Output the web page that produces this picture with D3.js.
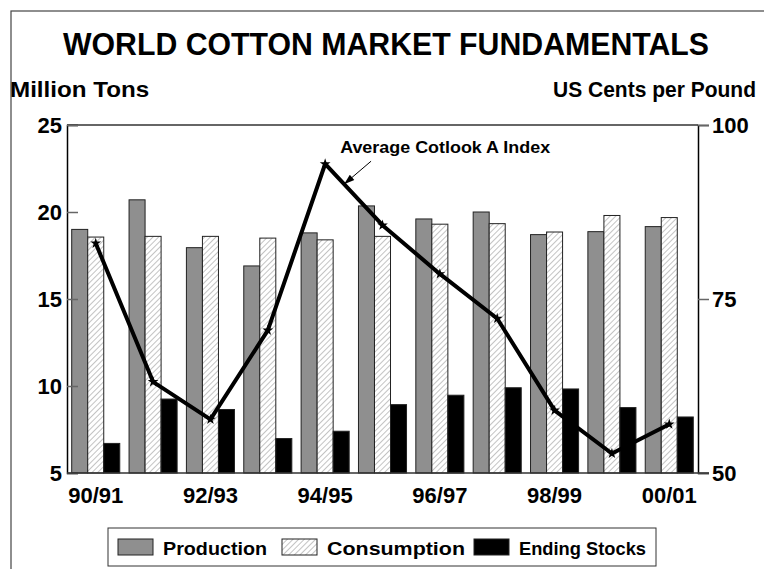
<!DOCTYPE html>
<html lang="en">
<head>
<meta charset="UTF-8">
<title>World Cotton Market Fundamentals</title>
<script src="https://d3js.org/d3.v7.min.js"></script>
<style>
  body { margin: 0; background: #fff; }
  svg text { font-family: "Liberation Sans", Arial, sans-serif; font-weight: bold; fill: #000; }
</style>
</head>
<body>
<svg width="764" height="569"></svg>
<script>
// data
const seasons = ["90/91","91/92","92/93","93/94","94/95","95/96","96/97","97/98","98/99","99/00","00/01"];
const production = [19.0, 20.7, 17.95, 16.9, 18.8, 20.35, 19.6, 20.0, 18.7, 18.87, 19.16];
const consumption = [18.56, 18.6, 18.6, 18.5, 18.4, 18.6, 19.3, 19.33, 18.85, 19.8, 19.68];
const endingStocks = [6.7, 9.25, 8.65, 6.98, 7.4, 8.93, 9.47, 9.9, 9.83, 8.76, 8.22];
const cotlookA = [83.0, 63.1, 57.7, 70.5, 94.4, 85.6, 78.6, 72.2, 59.0, 52.8, 57.0];
const leftTicks = [5, 10, 15, 20, 25];
const rightTicks = [50, 75, 100];
const xLabels = ["90/91","92/93","94/95","96/97","98/99","00/01"];
const seriesNames = ["Production", "Consumption", "Ending Stocks"];

const svg = d3.select("svg");
const plot = { left: 67, right: 698, top: 125, bottom: 473 };

// hatch for consumption
const defs = svg.append("defs");
defs.append("pattern")
  .attr("id", "hatch")
  .attr("patternUnits", "userSpaceOnUse")
  .attr("width", 4).attr("height", 4)
  .attr("patternTransform", "rotate(45)")
  .call(p => {
    p.append("rect").attr("width", 4).attr("height", 4).attr("fill", "#fff");
    p.append("line").attr("x1", 0).attr("y1", 0).attr("x2", 0).attr("y2", 4)
      .attr("stroke", "#9a9a9a").attr("stroke-width", 1.2);
  });

const fills = ["#8f8f8f", "url(#hatch)", "#000"];

// outer frame
svg.append("rect")
  .attr("x", 11).attr("y", 11).attr("width", 800).attr("height", 600)
  .attr("fill", "none").attr("stroke", "#444").attr("stroke-width", 1.2);

// titles
svg.append("text").attr("x", 386).attr("y", 55).attr("text-anchor", "middle")
  .attr("font-size", 32).attr("textLength", 646).attr("lengthAdjust", "spacingAndGlyphs")
  .text("WORLD COTTON MARKET FUNDAMENTALS");
svg.append("text").attr("transform", "translate(10,97) scale(1.1,1)").attr("font-size", 22)
  .text("Million Tons");
svg.append("text").attr("transform", "translate(756,97) scale(0.955,1)").attr("font-size", 22)
  .attr("text-anchor", "end")
  .text("US Cents per Pound");

// scales
const x0 = d3.scaleBand().domain(seasons).range([plot.left, plot.right])
  .paddingInner(0.162).paddingOuter(0.082);
const x1 = d3.scaleBand().domain(seriesNames).range([0, x0.bandwidth()]);
const yL = d3.scaleLinear().domain([5, 25]).range([plot.bottom, plot.top]);
const yR = d3.scaleLinear().domain([50, 100]).range([plot.bottom, plot.top]);

// bars
const barData = seasons.map((s, i) => ({ s, vals: [production[i], consumption[i], endingStocks[i]] }));
const groups = svg.append("g").selectAll("g").data(barData).join("g")
  .attr("transform", d => `translate(${x0(d.s)},0)`);
groups.selectAll("rect").data(d => d.vals.map((v, k) => ({ v, k })))
  .join("rect")
  .attr("x", d => x1(seriesNames[d.k]))
  .attr("y", d => yL(d.v))
  .attr("width", x1.bandwidth())
  .attr("height", d => yL(5) - yL(d.v))
  .attr("fill", d => fills[d.k])
  .attr("stroke", "#222")
  .attr("stroke-width", 1);

// top frame line of plot
svg.append("line").attr("x1", plot.left).attr("x2", plot.right).attr("y1", plot.top).attr("y2", plot.top)
  .attr("stroke", "#333").attr("stroke-width", 1.5);

function styleTicks(g) {
  g.attr("font-family", null).attr("font-size", null);
  g.selectAll(".tick text")
    .style("font-size", "22px").style("font-weight", "bold")
    .style("font-family", "'Liberation Sans', Arial, sans-serif");
}

// left axis
const leftAxis = svg.append("g").attr("transform", `translate(${plot.left},0)`)
  .call(d3.axisLeft(yL).tickValues(leftTicks).tickSize(-11).tickPadding(5).tickFormat(d3.format("d")));
leftAxis.select(".domain").attr("stroke", "#000").attr("stroke-width", 1.5);
leftAxis.selectAll(".tick line").attr("stroke", "#666").attr("stroke-width", 1.5)
  .attr("x1", 0).attr("x2", 11);
leftAxis.selectAll(".tick text").attr("x", -5);
styleTicks(leftAxis);

// right axis
const rightAxis = svg.append("g").attr("transform", `translate(${plot.right},0)`)
  .call(d3.axisRight(yR).tickValues(rightTicks).tickSize(11).tickPadding(3).tickFormat(d3.format("d")));
rightAxis.select(".domain").attr("stroke", "#000").attr("stroke-width", 1.5);
rightAxis.selectAll(".tick line").attr("stroke", "#666").attr("stroke-width", 1.5);
styleTicks(rightAxis);

// bottom axis
const bottomAxis = svg.append("g").attr("transform", `translate(0,${plot.bottom})`)
  .call(d3.axisBottom(x0).tickValues(xLabels).tickSize(0).tickPadding(14));
bottomAxis.select(".domain").attr("d", `M${plot.left},0H${plot.right + 11}`)
  .attr("stroke", "#333").attr("stroke-width", 1.5);
styleTicks(bottomAxis);

// price line
const pts = seasons.map((s, i) => [x0(s) + x0.bandwidth() / 2, yR(cotlookA[i])]);
svg.append("path").attr("d", d3.line()(pts))
  .attr("fill", "none").attr("stroke", "#000").attr("stroke-width", 4)
  .attr("stroke-linejoin", "round");
svg.append("g").selectAll("path").data(pts).join("path")
  .attr("transform", d => `translate(${d[0]},${d[1]})`)
  .attr("d", d3.symbol(d3.symbolStar).size(36))
  .attr("fill", "#000");

// annotation
const peak = pts[4], next = pts[5];
const tip = [peak[0] + (next[0] - peak[0]) * 0.33, peak[1] + (next[1] - peak[1]) * 0.33];
defs.append("marker").attr("id", "arrow").attr("viewBox", "0 0 12 8")
  .attr("refX", 12).attr("refY", 4).attr("markerWidth", 12).attr("markerHeight", 7)
  .attr("orient", "auto").attr("markerUnits", "userSpaceOnUse")
  .append("path").attr("d", "M0,0L12,4L0,8z").attr("fill", "#000");
svg.append("line")
  .attr("x1", tip[0] + 27).attr("y1", tip[1] - 23)
  .attr("x2", tip[0]).attr("y2", tip[1])
  .attr("stroke", "#000").attr("stroke-width", 1)
  .attr("marker-end", "url(#arrow)");
svg.append("text").attr("x", peak[0] + 15).attr("y", peak[1] - 11)
  .attr("font-size", 17).attr("textLength", 210).attr("lengthAdjust", "spacingAndGlyphs")
  .text("Average Cotlook A Index");

// legend
const legend = svg.append("g");
legend.append("rect").attr("x", 108).attr("y", 528).attr("width", 548).attr("height", 38)
  .attr("fill", "#fff").attr("stroke", "#333").attr("stroke-width", 1);
const legX = [118, 282, 474];
const legW = [104, 138, 127];
seriesNames.forEach((name, k) => {
  legend.append("rect").attr("x", legX[k]).attr("y", 539).attr("width", 35).attr("height", 16)
    .attr("fill", fills[k]).attr("stroke", "#222").attr("stroke-width", 1);
  legend.append("text").attr("x", legX[k] + 45).attr("y", 555).attr("font-size", 19)
    .attr("textLength", legW[k]).attr("lengthAdjust", "spacingAndGlyphs").text(name);
});
</script>
</body>
</html>
